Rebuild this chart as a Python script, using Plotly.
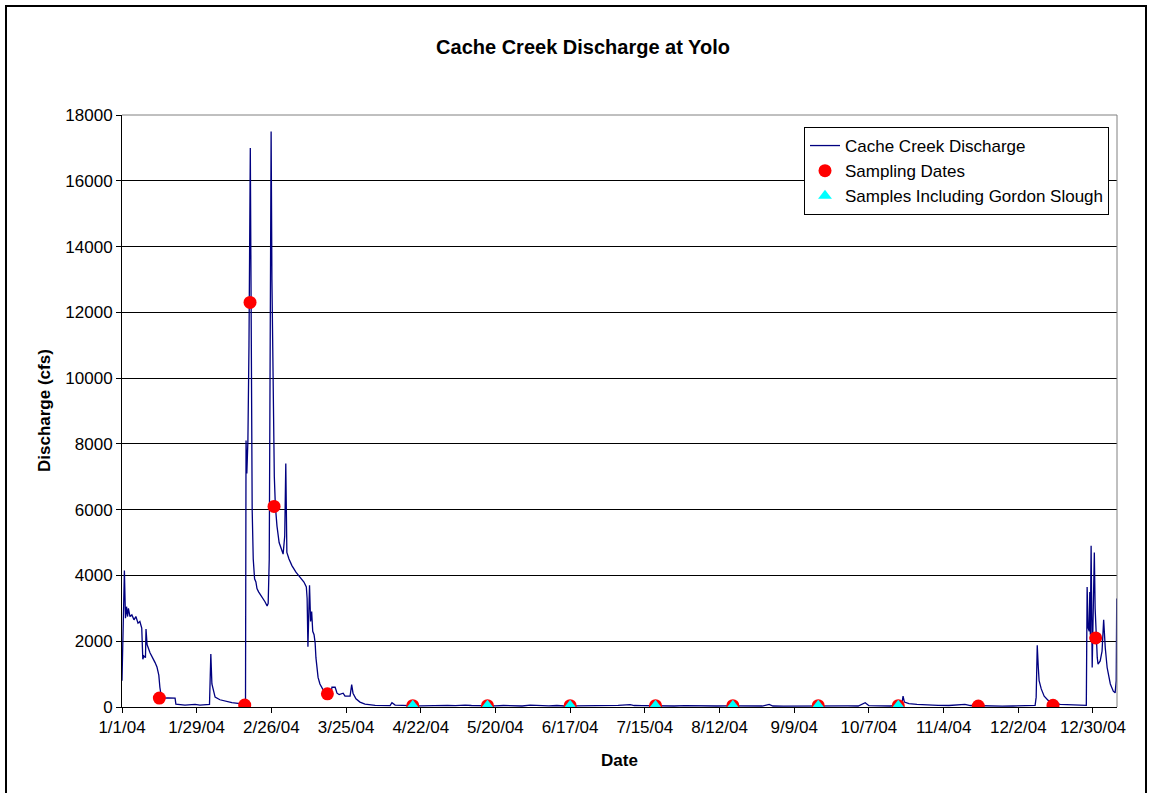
import plotly.graph_objects as go
import pandas as pd

# ---- data ----
# days after 2004-01-01 and discharge (cfs)
flow_day = [
    0.0, 0.2, 0.9, 1.3, 1.7, 2.1, 2.4, 3.0, 3.7, 4.5, 5.2, 6.0, 6.7, 7.4, 7.8, 8.2, 8.8, 9.0, 9.4,
    10.5, 11.6, 12.4, 13.1, 13.8, 14.2, 14.8, 17.2, 19.9, 20.2, 23.6, 27.4, 29.2, 32.8, 33.3, 33.7,
    34.9, 36.7, 38.6, 41.2, 44.2, 46.1,
    46.3, 46.5, 46.8, 47.2, 47.6, 48.1, 48.4, 48.8, 49.2, 49.7, 50.2, 50.6, 51.2, 52.5, 53.6, 54.4,
    54.8, 55.2, 55.5, 55.9, 56.2, 56.7, 57.1, 57.5, 58.1, 58.9, 59.6, 60.4, 61.0, 61.4, 61.8, 62.6,
    63.7, 65.2, 66.7, 68.2, 69.1, 69.4, 69.7, 70.0, 70.3, 70.7, 71.1, 71.5, 72.0, 72.4, 72.7, 73.5,
    74.2, 75.4, 76.9, 78.4, 78.7, 79.9, 80.6, 81.4, 82.9, 83.6, 85.5, 86.1, 86.6, 87.7, 89.2, 91.1,
    94.9, 100.5, 101.2, 102.4, 105.0,
    108, 112, 116, 119, 122, 125, 128.6, 131, 134, 137, 140, 143, 146, 150, 153, 156, 160, 163,
    166, 170, 174, 178, 182, 186, 190.5, 192, 195, 199, 203, 207, 211, 215, 219, 223, 227, 231,
    235, 240, 242.6, 244, 248, 252, 256, 260, 264, 268, 272, 276, 278.6, 280, 284, 288, 292.3,
    292.8, 293.3, 295, 298, 302, 306, 310, 313, 316, 318, 322, 326, 330, 334, 338, 340.5,
    342.3, 342.7, 343.1, 343.5, 343.8, 344.6, 345.7, 347.2, 348.7, 351.7, 355.5, 361.5,
    361.8, 362.2, 362.6, 362.8, 363.0, 363.3, 363.7, 364.1, 364.5, 364.8, 365.2, 365.6, 365.9,
    366.7, 367.4, 368.0, 368.6, 369.3, 370.5, 371.6, 372.3, 372.7, 372.9, 373.0,
]
flow_cfs = [
    800, 1800, 4150, 2700, 3050, 2750, 3000, 2750, 2800, 2650, 2750, 2550, 2600, 2400, 1450, 1550, 1500, 2370, 1900,
    1650, 1500, 1350, 1220, 970, 600, 270, 280, 270, 90, 60, 80, 60, 80, 1610, 700,
    300, 220, 180, 130, 100, 60,
    80, 8100, 7100, 8100, 11000, 17000, 12300, 6000, 4500, 3900, 3800, 3600, 3500, 3350, 3200, 3070,
    3150, 4500, 9000, 17500, 13000, 9000, 7000, 6100, 5500, 5000, 4800, 4650, 5200, 7400, 4700, 4500,
    4300, 4100, 3950, 3800, 3650, 3300, 1830, 3000, 3700, 2600, 2900, 2300, 2200, 1950, 1500, 900,
    700, 520, 430, 430, 600, 600, 420, 380, 420, 330, 330, 680, 420, 250, 150, 90,
    50, 40, 130, 60, 40,
    40, 35, 45, 30, 50, 40, 60, 45, 40, 30, 35, 45, 35, 30, 55, 40, 35, 45,
    30, 35, 40, 30, 35, 50, 70, 45, 40, 30, 35, 30, 40, 30, 25, 30, 35, 30,
    25, 30, 80, 30, 25, 30, 25, 30, 25, 30, 35, 30, 130, 40, 35, 30, 60,
    330, 150, 100, 80, 60, 50, 45, 60, 80, 45, 35, 30, 25, 30, 35, 40,
    50, 300, 1880, 1200, 800, 550, 330, 200, 130, 80, 60, 50,
    3650, 2400, 2300, 3500, 2200, 4900, 1200, 2800, 4700, 3000, 2000, 1500, 1300,
    1400, 1700, 2650, 1800, 1200, 700, 480, 430, 800, 3300, 1350,
]

sample_dates = [
    "2004-01-15", "2004-02-16", "2004-02-18", "2004-02-27", "2004-03-18",
    "2004-04-19", "2004-05-17", "2004-06-17", "2004-07-19", "2004-08-17",
    "2004-09-18", "2004-10-18", "2004-11-17", "2004-12-15", "2004-12-31",
]
sample_cfs = [270, 60, 12300, 6100, 400, 40, 40, 40, 40, 40, 40, 40, 30, 50, 2100]

gordon_dates = [
    "2004-04-19", "2004-05-17", "2004-06-17", "2004-07-19", "2004-08-17",
    "2004-09-18", "2004-10-18",
]
gordon_cfs = [40, 40, 40, 40, 40, 40, 40]

tick_dates = [
    "2004-01-01", "2004-01-29", "2004-02-26", "2004-03-25", "2004-04-22", "2004-05-20",
    "2004-06-17", "2004-07-15", "2004-08-12", "2004-09-09", "2004-10-07", "2004-11-04",
    "2004-12-02", "2004-12-30",
]
tick_labels = [
    "1/1/04", "1/29/04", "2/26/04", "3/25/04", "4/22/04", "5/20/04", "6/17/04",
    "7/15/04", "8/12/04", "9/9/04", "10/7/04", "11/4/04", "12/2/04", "12/30/04",
]
y_ticks = [0, 2000, 4000, 6000, 8000, 10000, 12000, 14000, 16000, 18000]
y_tick_labels = ["0", "2000", "4000", "6000", "8000", "10000", "12000", "14000", "16000", "18000"]

base = pd.Timestamp("2004-01-01")
flow_dates = [base + pd.Timedelta(days=d) for d in flow_day]

FONT = "Liberation Sans, Arial, sans-serif"
FS = 17

fig = go.Figure()
fig.add_trace(go.Scatter(
    x=flow_dates, y=flow_cfs, mode="lines", name="Cache Creek Discharge",
    line=dict(color="#000080", width=1.3), legendgroup="a",
))
fig.add_trace(go.Scatter(
    x=sample_dates, y=sample_cfs, mode="markers", name="Sampling Dates",
    marker=dict(color="#ff0000", size=13, symbol="circle"), legendgroup="b",
))
fig.add_trace(go.Scatter(
    x=gordon_dates, y=gordon_cfs, mode="markers", name="Samples Including Gordon Slough",
    marker=dict(color="#00ffff", size=12, symbol="triangle-up"), legendgroup="c",
))

fig.update_layout(
    width=1152, height=793,
    margin=dict(l=122, r=35, t=115, b=86),
    paper_bgcolor="white", plot_bgcolor="white",
    font=dict(family=FONT, size=FS, color="black"),
    title=dict(text="<b>Cache Creek Discharge at Yolo</b>", x=583 / 1152, xanchor="center",
               y=1 - 47 / 793, yanchor="middle", font=dict(size=20, family=FONT)),
    showlegend=True,
    legend=dict(x=(804 - 122) / 995, y=(707 - 127) / 592, xanchor="left", yanchor="top",
                bgcolor="white", bordercolor="black", borderwidth=1,
                font=dict(size=FS, family=FONT), traceorder="normal", tracegroupgap=0),
    xaxis=dict(
        type="date", range=["2004-01-01", "2005-01-08"],
        tickvals=tick_dates, ticktext=tick_labels,
        showgrid=False, zeroline=False,
        showline=True, linecolor="black", linewidth=1,
        ticks="outside", ticklen=5, tickcolor="black", tickwidth=1,
        tickfont=dict(size=FS),
    ),
    yaxis=dict(
        range=[0, 18000], tickvals=y_ticks, ticktext=y_tick_labels,
        showgrid=True, gridcolor="black", gridwidth=1, zeroline=False,
        showline=True, linecolor="black", linewidth=1,
        ticks="outside", ticklen=5, tickcolor="black", tickwidth=1,
        tickfont=dict(size=FS),
    ),
    annotations=[
        dict(text="<b>Discharge (cfs)</b>", xref="paper", yref="paper",
             x=(44 - 122) / 995, y=0.5, textangle=-90, showarrow=False,
             font=dict(size=FS, family=FONT), xanchor="center", yanchor="middle"),
        dict(text="<b>Date</b>", xref="paper", yref="paper",
             x=0.5, y=(707 - 760) / 592, showarrow=False,
             font=dict(size=FS, family=FONT), xanchor="center", yanchor="middle"),
    ],
    shapes=[
        dict(type="line", xref="paper", yref="paper", x0=0, x1=1, y0=1, y1=1,
             line=dict(color="#808080", width=1), layer="above"),
        dict(type="line", xref="paper", yref="paper", x0=1, x1=1, y0=0, y1=1,
             line=dict(color="#808080", width=1), layer="above"),
        dict(type="rect", xref="paper", yref="paper",
             x0=(6 - 122) / 995, x1=(1146 - 122) / 995,
             y0=(707 - 810) / 592, y1=(707 - 6) / 592,
             line=dict(color="black", width=2), fillcolor="rgba(0,0,0,0)", layer="below"),
    ],
)

fig.write_html("out.html", config={"displayModeBar": False},
               post_script="document.body.style.margin='0';")
